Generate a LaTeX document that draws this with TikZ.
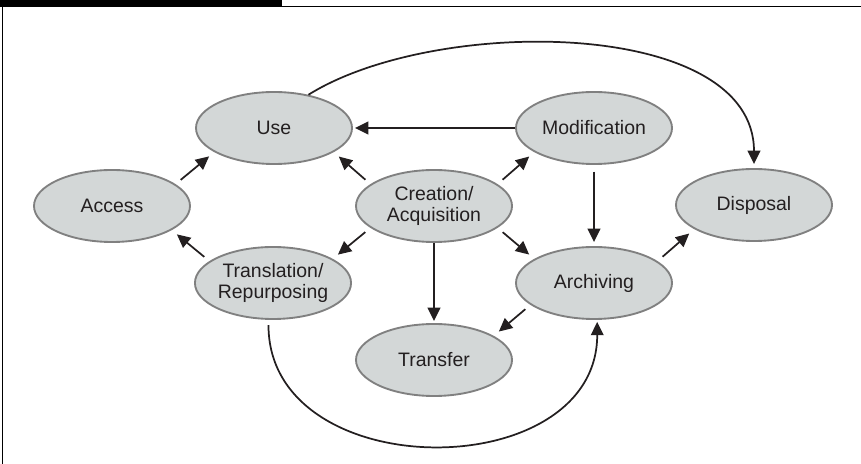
\documentclass[tikz,border=0pt]{standalone}
\usepackage{fontspec}
\setmainfont{Liberation Sans}
\usetikzlibrary{arrows.meta, shapes.geometric}
\definecolor{ovalfill}{RGB}{211,215,215}
\definecolor{ovaledge}{RGB}{128,128,128}
\definecolor{ink}{RGB}{35,31,32}

\begin{document}
\begin{tikzpicture}[x=0.75pt, y=0.75pt,
    stage/.style={ellipse, draw=ovaledge, fill=ovalfill, line width=1.4pt,
      minimum width=117pt, minimum height=54pt, inner sep=0pt, align=center,
      text=ink, font=\fontsize{14.6}{16.3}\selectfont},
    flow/.style={color=ink, line width=1.3pt, -{Triangle[length=10pt, width=9.5pt]}},
    diag/.style={shorten <=5pt, shorten >=5pt}]
  \useasboundingbox (0, 0) rectangle (861, 464);
  % frame
  \fill[black] (0, 464) rectangle (282, 457.3);
  \draw[line width=1.1pt] (0, 457.7) -- (861, 457.7);
  \draw[line width=1.1pt] (2.7, 457.7) -- (2.7, 0);
  % stages
  \node[stage] (use) at (274, 336) {Use};
  \node[stage] (mod) at (594, 336) {Modification};
  \node[stage] (acc) at (112, 258) {Access};
  \node[stage] (cre) at (434, 258) {Creation/\\Acquisition};
  \node[stage] (disp) at (754, 259) {Disposal};
  \node[stage] (trans) at (273, 181) {Translation/\\Repurposing};
  \node[stage] (arch) at (594, 181) {Archiving};
  \node[stage] (tfer) at (434, 104) {Transfer};
  % arrows
  \path[flow, diag] (acc.19) edge (use.202)
                    (cre.161) edge (use.338)
                    (cre.19) edge (mod.202)
                    (cre.199) edge (trans.22)
                    (trans.161) edge (acc.338)
                    (cre.341) edge (arch.158)
                    (arch.199) edge (tfer.22)
                    (arch.19) edge (disp.202);
  \path[flow, shorten >=1.5pt] (mod.west) edge (use.east)
                               (cre.south) edge (tfer.north);
  \path[flow, shorten <=5pt, shorten >=3pt] (mod.south) edge (arch.north);
  \path[flow, shorten >=3pt] (use.44) edge[out=32, in=90, looseness=0.85] (disp.north);
  \path[flow, shorten <=4pt, shorten >=1.5pt] (trans.263) edge[out=-90, in=-90, looseness=1.3] (arch.275);
\end{tikzpicture}
\end{document}
